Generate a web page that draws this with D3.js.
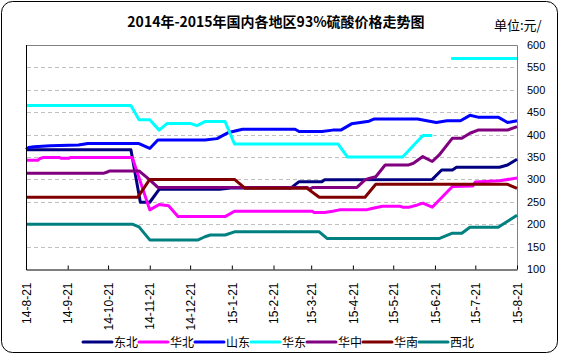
<!DOCTYPE html>
<html>
<head>
<meta charset="utf-8">
<script src="https://cdn.jsdelivr.net/npm/d3@7"></script>
<style>
  html, body { margin: 0; padding: 0; background: #fff; }
  svg { display: block; }
</style>
</head>
<body>
<div id="chart"></div>
<script>
// ---------- DATA ----------
const title = "2014年-2015年国内各地区93%硫酸价格走势图";
const unitLabel = "单位:元/";

const seriesNames = ["东北", "华北", "山东", "华东", "华中", "华南", "西北"];
const seriesColors = ["#000080", "#FF00FF", "#0000FF", "#00FFFF", "#800080", "#800000", "#008080"];

const tickDates = ["2014-08-21","2014-09-21","2014-10-21","2014-11-21","2014-12-21","2015-01-21","2015-02-21",
                   "2015-03-21","2015-04-21","2015-05-21","2015-06-21","2015-07-21","2015-08-21"];
const tickLabels = ["14-8-21","14-9-21","14-10-21","14-11-21","14-12-21","15-1-21","15-2-21",
                    "15-3-21","15-4-21","15-5-21","15-6-21","15-7-21","15-8-21"];
const yTicks = [100, 150, 200, 250, 300, 350, 400, 450, 500, 550, 600];

// 东北
const dongbei = [["2014-08-21",366],["2014-11-07",366],["2014-11-14",249],["2014-11-21",249],["2014-11-28",278],
  ["2015-01-12",278],["2015-01-20",281],["2015-03-06",281],["2015-03-12",295],["2015-03-29",295],["2015-03-31",299],
  ["2015-06-19",300],["2015-06-26",321],["2015-07-04",321],["2015-07-07",327],["2015-08-08",327],["2015-08-14",332],
  ["2015-08-21",345]];
// 华北
const huabei = [["2014-08-21",343],["2014-08-30",343],["2014-08-31",346],["2014-09-03",349],["2014-09-15",349],
  ["2014-09-16",347],["2014-09-22",347],["2014-09-23",349],["2014-11-08",349],["2014-11-21",232],["2014-11-28",244],
  ["2014-12-05",241],["2014-12-12",217],["2015-01-16",217],["2015-01-23",229],["2015-03-22",229],["2015-03-23",226],
  ["2015-03-31",226],["2015-04-06",229],["2015-04-11",232],["2015-05-01",232],["2015-05-05",235],["2015-05-13",240],
  ["2015-05-26",240],["2015-05-28",238],["2015-06-02",238],["2015-06-08",243],["2015-06-12",247],["2015-06-19",238],
  ["2015-07-04",284],["2015-07-19",285],["2015-07-21",294],["2015-08-08",297],["2015-08-21",303]];
// 山东
const shandong = [["2014-08-21",367],["2014-08-23",371],["2014-08-27",373],["2014-09-08",375],["2014-09-29",377],
  ["2014-10-06",380],["2014-11-13",380],["2014-11-21",369],["2014-11-27",388],["2015-01-01",388],["2015-01-10",391],
  ["2015-01-18",404],["2015-01-29",412],["2015-03-09",412],["2015-03-12",407],["2015-03-29",407],["2015-04-06",410],
  ["2015-04-12",410],["2015-04-20",424],["2015-05-03",430],["2015-05-07",435],["2015-06-08",435],["2015-06-22",427],
  ["2015-06-30",431],["2015-07-10",431],["2015-07-17",443],["2015-07-23",439],["2015-08-07",439],["2015-08-14",427],
  ["2015-08-21",431]];
// 华东 (null = gap)
const huadong = [["2014-08-21",465],["2014-11-07",465],["2014-11-13",433],["2014-11-21",433],["2014-11-28",410],
  ["2014-12-04",425],["2014-12-21",425],["2014-12-26",420],["2015-01-01",429],["2015-01-16",429],["2015-01-23",379],
  ["2015-04-10",379],["2015-04-17",350],["2015-05-28",350],["2015-06-12",398],["2015-06-19",398],["2015-06-20",null],
  ["2015-07-02",null],["2015-07-03",570],["2015-08-21",570]];
// 华中
const huazhong = [["2014-08-21",314],["2014-10-18",314],["2014-10-21",317],["2014-10-22",319],["2014-11-13",319],
  ["2014-11-21",299],["2014-11-27",282],["2015-03-18",282],["2015-03-20",278],["2015-03-22",282],["2015-04-24",282],
  ["2015-04-30",299],["2015-05-03",302],["2015-05-08",306],["2015-05-15",332],["2015-06-01",332],["2015-06-05",336],
  ["2015-06-12",351],["2015-06-13",349],["2015-06-19",340],["2015-06-24",354],["2015-07-04",392],["2015-07-11",392],
  ["2015-07-17",403],["2015-07-23",410],["2015-08-14",410],["2015-08-21",418]];
// 华南
const huanan = [["2014-08-21",260],["2014-11-12",260],["2014-11-21",300],["2015-01-23",300],["2015-01-31",280],
  ["2015-03-18",280],["2015-03-27",260],["2015-04-30",260],["2015-05-08",289],["2015-08-14",289],["2015-08-21",280]];
// 西北
const xibei = [["2014-08-21",200],["2014-11-08",200],["2014-11-13",194],["2014-11-21",165],["2014-12-27",165],
  ["2015-01-01",172],["2015-01-05",176],["2015-01-16",176],["2015-01-23",183],["2015-03-27",183],["2015-04-02",168],
  ["2015-06-24",168],["2015-07-04",180],["2015-07-11",180],["2015-07-17",193],["2015-08-07",193],["2015-08-21",220]];

const seriesData = [dongbei, huabei, shandong, huadong, huazhong, huanan, xibei];

// ---------- CHART ----------
const W = 561, H = 355;
const plot = { left: 26, right: 517, top: 45, bottom: 269 };
const parse = d3.utcParse("%Y-%m-%d");

const svg = d3.select("#chart").append("svg").attr("width", W).attr("height", H)
  .style("font-family", "'Liberation Sans', Arial, sans-serif");

// outer frame
svg.append("rect").attr("x", 1.5).attr("y", 1.5).attr("width", W - 5).attr("height", H - 4)
  .attr("rx", 11).attr("ry", 11).attr("fill", "#fff").attr("stroke", "#000").attr("stroke-width", 1);

const x = d3.scaleUtc().domain([parse(tickDates[0]), parse(tickDates[tickDates.length - 1])])
  .range([plot.left, plot.right]);
const y = d3.scaleLinear().domain([100, 600]).range([plot.bottom, plot.top]);

// gridlines
svg.append("g").selectAll("line").data(yTicks.filter(v => v > 100 && v < 600)).join("line")
  .attr("x1", plot.left + 1).attr("x2", plot.right)
  .attr("y1", d => Math.round(y(d)) + 0.5).attr("y2", d => Math.round(y(d)) + 0.5)
  .attr("stroke", "#C0C0C0").attr("stroke-dasharray", "4,3").attr("stroke-width", 1);

// plot border top/right (gray)
svg.append("path")
  .attr("d", `M${plot.left},${plot.top + 0.5}H${plot.right + 0.5}V${plot.bottom}`)
  .attr("fill", "none").attr("stroke", "#808080").attr("stroke-width", 1);

// series lines
const line = d3.line()
  .defined(d => d[1] !== null)
  .x(d => x(parse(d[0])))
  .y(d => y(d[1]));

svg.append("g").selectAll("path").data(seriesData).join("path")
  .attr("d", d => line(d))
  .attr("fill", "none")
  .attr("stroke", (d, i) => seriesColors[i])
  .attr("stroke-width", 3)
  .attr("stroke-linejoin", "round");

// x axis
const xAxis = d3.axisBottom(x)
  .tickValues(tickDates.map(parse))
  .tickFormat((d, i) => tickLabels[i])
  .tickSizeInner(-4).tickSizeOuter(0);
const gx = svg.append("g").attr("transform", `translate(0,${plot.bottom + 0.5})`).call(xAxis);
gx.select(".domain").attr("stroke", "#000");
gx.selectAll(".tick line").attr("stroke", "#000");
gx.selectAll(".tick text")
  .attr("transform", "translate(0,13) rotate(-90)")
  .attr("text-anchor", "end")
  .attr("x", 0).attr("y", 0).attr("dy", "0.35em")
  .attr("fill", "#000")
  .style("font-size", "12px")
  .style("font-family", "'Liberation Sans', Arial, sans-serif");

// left axis line
svg.append("line").attr("x1", plot.left + 0.5).attr("x2", plot.left + 0.5)
  .attr("y1", plot.top).attr("y2", plot.bottom + 1).attr("stroke", "#000");

// y axis (right)
const yAxis = d3.axisRight(y).tickValues(yTicks).tickSize(0).tickPadding(10);
const gy = svg.append("g").attr("transform", `translate(${plot.right},0)`).call(yAxis);
gy.select(".domain").remove();
gy.selectAll(".tick text").attr("fill", "#000")
  .style("font-size", "11px")
  .style("font-family", "'Liberation Sans Narrow', 'Arial Narrow', 'Liberation Sans', sans-serif");

// title
svg.append("text").attr("x", 276).attr("y", 27).attr("text-anchor", "middle")
  .style("font-size", "14px").style("font-weight", "bold")
  .style("font-family", "'Noto Sans CJK SC', sans-serif")
  .text(title);

svg.append("text").attr("x", 494).attr("y", 30)
  .style("font-size", "13px")
  .style("font-family", "'Noto Sans CJK SC', sans-serif")
  .text(unitLabel);

// legend
const legend = svg.append("g").attr("transform", "translate(83,342)");
const item = legend.selectAll("g").data(seriesNames).join("g")
  .attr("transform", (d, i) => `translate(${i * 56},0)`);
item.append("line").attr("x1", 0).attr("x2", 29).attr("y1", 0).attr("y2", 0)
  .attr("stroke", (d, i) => seriesColors[i]).attr("stroke-width", 3).attr("stroke-linecap", "round");
item.append("text").attr("x", 31).attr("y", 0).attr("dy", "0.38em")
  .style("font-size", "12px")
  .style("font-family", "'Noto Sans CJK SC', sans-serif")
  .text(d => d);
</script>
</body>
</html>
